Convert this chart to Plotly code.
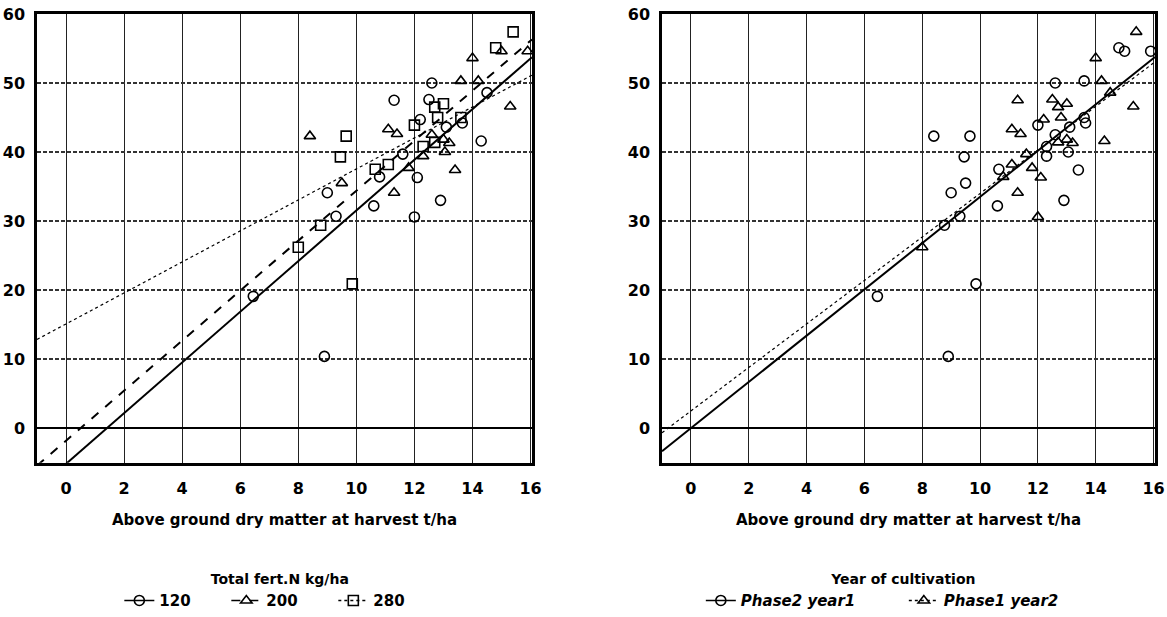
import numpy as np
import plotly.graph_objects as go

# ---- data (one entry per plot / field) ----
dry_matter = [15.4, 14.8, 15.0, 15.9, 14.0, 12.6, 13.6, 14.2, 14.5, 15.3,
              11.3, 12.5, 13.0, 12.7, 12.8, 12.2, 13.6, 13.65, 12.0, 13.1,
              11.1, 11.4, 8.4, 9.65, 12.6, 13.0, 13.2, 12.7, 14.3, 12.3,
              12.3, 13.05, 9.45, 11.6, 11.1, 10.65, 11.8, 13.4, 10.8, 12.1,
              9.5, 9.0, 11.3, 12.9, 10.6, 9.3, 12.0, 8.77, 8.0, 9.86,
              6.45, 8.9]
crop_n = [57.4, 55.1, 54.6, 54.6, 53.6, 50.0, 50.3, 50.3, 48.6, 46.6,
          47.5, 47.6, 47.0, 46.5, 45.0, 44.7, 45.0, 44.2, 43.9, 43.6,
          43.3, 42.6, 42.3, 42.3, 42.5, 41.8, 41.3, 41.4, 41.6, 40.8,
          39.4, 40.0, 39.3, 39.7, 38.2, 37.5, 37.7, 37.4, 36.4, 36.3,
          35.5, 34.1, 34.1, 33.0, 32.2, 30.7, 30.6, 29.4, 26.2, 20.9,
          19.1, 10.4]
fert_n = [280, 280, 200, 200, 200, 120, 200, 200, 120, 200,
          120, 120, 280, 280, 280, 120, 280, 120, 280, 120,
          200, 200, 200, 280, 200, 200, 200, 280, 120, 280,
          200, 200, 280, 120, 280, 280, 200, 200, 120, 120,
          200, 120, 200, 120, 120, 120, 120, 280, 280, 280,
          120, 120]
year = ["Phase1 year2", "Phase2 year1", "Phase2 year1", "Phase2 year1", "Phase1 year2",
        "Phase2 year1", "Phase2 year1", "Phase1 year2", "Phase1 year2", "Phase1 year2",
        "Phase1 year2", "Phase1 year2", "Phase1 year2", "Phase1 year2", "Phase1 year2",
        "Phase1 year2", "Phase2 year1", "Phase2 year1", "Phase2 year1", "Phase2 year1",
        "Phase1 year2", "Phase1 year2", "Phase2 year1", "Phase2 year1", "Phase2 year1",
        "Phase1 year2", "Phase1 year2", "Phase1 year2", "Phase1 year2", "Phase2 year1",
        "Phase2 year1", "Phase2 year1", "Phase2 year1", "Phase1 year2", "Phase1 year2",
        "Phase2 year1", "Phase1 year2", "Phase2 year1", "Phase1 year2", "Phase1 year2",
        "Phase2 year1", "Phase2 year1", "Phase1 year2", "Phase2 year1", "Phase2 year1",
        "Phase2 year1", "Phase1 year2", "Phase2 year1", "Phase1 year2", "Phase2 year1",
        "Phase2 year1", "Phase2 year1"]

fert_levels = [120, 200, 280]
fert_intercepts = [-5.16, -1.8, 15.1]
fert_slopes = [3.67, 3.62, 2.245]

year_groups = ["Phase2 year1", "Phase1 year2"]
year_intercepts = [0.0, 2.5]
year_slopes = [3.35, 3.15]

x_ticks = [0, 2, 4, 6, 8, 10, 12, 14, 16]
y_ticks = [0, 10, 20, 30, 40, 50, 60]
x_title = "Above ground dry matter at harvest t/ha"
fert_legend_title = "Total fert.N kg/ha"
year_legend_title = "Year of cultivation"

# ---- styles ----
fert_style = {120: ("circle-open", "solid", 2.0),
              200: ("triangle-up-open", "dash", 2.0),
              280: ("square-open", "dot", 1.2)}
year_style = {"Phase2 year1": ("circle-open", "solid", 2.0),
              "Phase1 year2": ("triangle-up-open", "dot", 1.2)}

FONT = "DejaVu Sans"
X_RANGE = [-1, 16.05]
Y_RANGE = [-5, 60]

dm = np.array(dry_matter)
cn = np.array(crop_n)
fn = np.array(fert_n)
yr = np.array(year)
x_line = np.array(X_RANGE)

fig = go.Figure()


def add_group(xa, ya, mask, line_a, line_b, symbol, dash, lw, name, legend):
    fig.add_trace(go.Scatter(
        x=dm[mask], y=cn[mask], mode="markers", xaxis=xa, yaxis=ya,
        marker=dict(symbol=symbol, size=10, color="black",
                    line=dict(color="black", width=1.6)),
        showlegend=False, hoverinfo="x+y"))
    fig.add_trace(go.Scatter(
        x=x_line, y=line_a + line_b * x_line, mode="lines", xaxis=xa, yaxis=ya,
        line=dict(color="black", width=lw, dash=dash),
        showlegend=False, hoverinfo="skip"))
    fig.add_trace(go.Scatter(
        x=[None], y=[None], mode="lines+markers", xaxis=xa, yaxis=ya,
        name=name, legend=legend,
        marker=dict(symbol=symbol, size=10, color="black",
                    line=dict(color="black", width=1.6)),
        line=dict(color="black", width=1.6, dash=dash)))


for lvl, a, b in zip(fert_levels, fert_intercepts, fert_slopes):
    sym, dash, lw = fert_style[lvl]
    add_group("x", "y", fn == lvl, a, b, sym, dash, lw, str(lvl), "legend")

for grp, a, b in zip(year_groups, year_intercepts, year_slopes):
    sym, dash, lw = year_style[grp]
    add_group("x2", "y2", yr == grp, a, b, sym, dash, lw, grp, "legend2")

tickfont = dict(family=FONT, size=16, color="black", weight="bold")
xcommon = dict(range=X_RANGE, tickvals=x_ticks, showgrid=True,
               gridcolor="#222", gridwidth=1.3, griddash="solid",
               zeroline=False, showline=True, mirror=True, linecolor="black",
               linewidth=2.5, ticks="", tickfont=tickfont,
               ticklabelstandoff=9, ticklabeloverflow="allow",
               automargin=False, fixedrange=True)
ycommon = dict(range=Y_RANGE, tickvals=y_ticks, showgrid=True,
               gridcolor="#333", gridwidth=1.5, griddash="4px,2px",
               zeroline=True, zerolinecolor="black", zerolinewidth=2.2,
               showline=True, mirror=True, linecolor="black", linewidth=2.5,
               ticks="", tickfont=tickfont, ticklabelstandoff=6,
               ticklabeloverflow="allow", automargin=False, fixedrange=True)

W, H = 1167, 617
left_dom = [37 / W, 532 / W]
right_dom = [662 / W, 1155 / W]
y_dom = [1 - 465 / H, 1 - 14 / H]

title_font = dict(family=FONT, size=14, weight="bold", style="normal")

fig.update_layout(
    width=W, height=H,
    margin=dict(l=0, r=0, t=0, b=0),
    paper_bgcolor="white", plot_bgcolor="white",
    font=dict(family=FONT, color="black"),
    xaxis=dict(domain=left_dom, anchor="y", **xcommon),
    yaxis=dict(domain=y_dom, anchor="x", **ycommon),
    xaxis2=dict(domain=right_dom, anchor="y2", **xcommon),
    yaxis2=dict(domain=y_dom, anchor="x2", **ycommon),
    legend=dict(orientation="h", x=sum(left_dom) / 2 - 0.004, xanchor="center",
                y=1 - 569 / H, yanchor="top",
                title=dict(text=fert_legend_title, side="top center",
                           font=title_font),
                font=dict(family=FONT, size=15, weight="bold"),
                itemwidth=30, entrywidth=62, entrywidthmode="pixels",
                bgcolor="rgba(0,0,0,0)"),
    legend2=dict(orientation="h", x=sum(right_dom) / 2 - 0.004, xanchor="center",
                 y=1 - 569 / H, yanchor="top",
                 title=dict(text=year_legend_title, side="top center",
                            font=title_font),
                 font=dict(family=FONT, size=15, weight="bold", style="italic"),
                 itemwidth=30, entrywidth=158, entrywidthmode="pixels",
                 bgcolor="rgba(0,0,0,0)"),
    annotations=[
        dict(text=x_title, x=sum(left_dom) / 2, y=1 - 523 / H, xref="paper",
             yref="paper", xanchor="center", yanchor="middle", showarrow=False,
             font=dict(family=FONT, size=15, weight="bold")),
        dict(text=x_title, x=sum(right_dom) / 2, y=1 - 523 / H, xref="paper",
             yref="paper", xanchor="center", yanchor="middle", showarrow=False,
             font=dict(family=FONT, size=15, weight="bold")),
    ],
)

fig.write_html("out.html")
